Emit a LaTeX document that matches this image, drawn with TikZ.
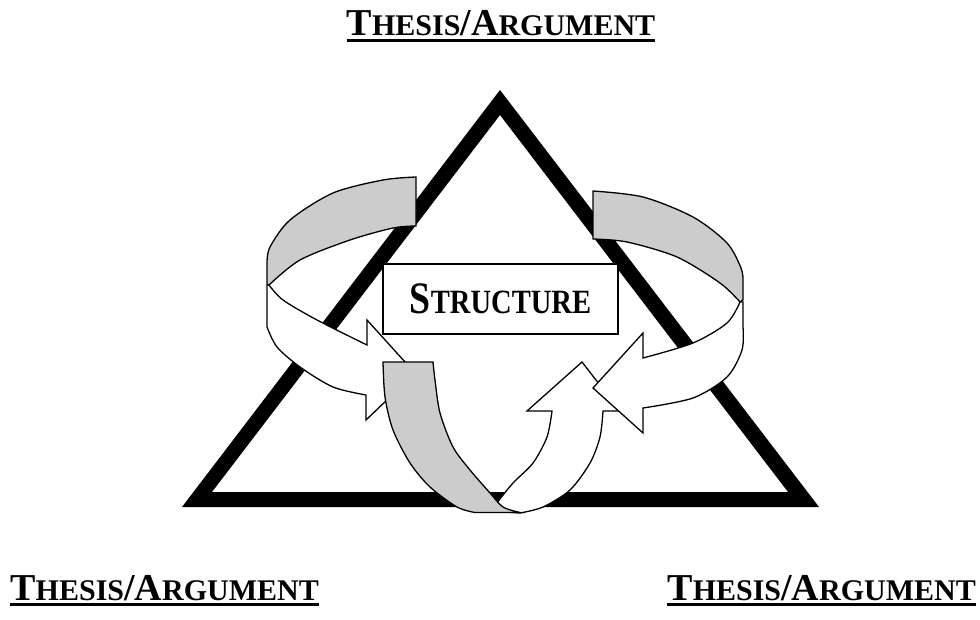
\documentclass[tikz,border=0pt]{standalone}
\usepackage{fontspec}
\setmainfont{Liberation Serif}
\definecolor{ribbon}{HTML}{CCCCCC}
\newcommand\thesisarg{{\fontsize{38}{40}\selectfont T}{\fontsize{30}{32}\selectfont HESIS}{\fontsize{38}{40}\selectfont /A}{\fontsize{30}{32}\selectfont RGUMENT}}
\newcommand\structword{\scalebox{0.84}[1]{{\fontsize{45}{47}\selectfont S}{\fontsize{34}{36}\selectfont TRUCTURE}}}
\tikzset{
  label/.style={inner sep=0pt, anchor=base, font=\bfseries},
  uline/.style={line width=2.2pt},
  band/.style={draw=black, line width=1.3pt, line join=miter, fill=ribbon},
  face/.style={draw=black, line width=1.3pt, line join=miter, fill=white},
  box/.style={draw=black, line width=1.4pt, fill=white, minimum width=235pt, minimum height=70pt, inner sep=0pt, font=\bfseries}
}
\begin{document}
\begin{tikzpicture}[x=1pt,y=-1pt]
\useasboundingbox (0,0) rectangle (980,620);
% triangle
\fill[even odd rule] (500,90) -- (182,507) -- (819,507) -- cycle
  (500,115) -- (212,492) -- (788,492) -- cycle;
% centre box
\node[box] (struct) at (500.5,299) {\structword};
% left arrow
\path[band] plot[smooth] coordinates {(416,177) (383,180) (333,193) (290,220) (270,247) (267,263)}
  -- (267,284) -- plot[smooth] coordinates {(269,285) (300,260) (350,240) (393,228) (416,226)} -- cycle;
\path[face] plot[smooth] coordinates {(269,285) (283,300) (317,320) (367,345)}
  -- (367,320) -- (415,373) -- (366,420) -- (366,395)
  -- plot[smooth] coordinates {(366,395) (333,387) (300,367) (277,347) (267,327)} -- (267,285) -- cycle;
% bottom U arrow
\path[face] (527,411) -- (552,411)
  -- plot[smooth] coordinates {(552,411) (547,437) (533,463) (513,483) (496,504)}
  -- (505,512) -- (520,513)
  -- plot[smooth] coordinates {(520,513) (543,507) (570,490) (590,463) (600,437) (603,411)}
  -- (620,411) -- (582,362) -- cycle;
\path[band] plot[smooth] coordinates {(383,362) (385,397) (393,430) (410,463) (430,487) (457,507) (475,512.5)}
  -- (520,512.5) -- plot[smooth] coordinates {(520,512.5) (503,507) (490,493) (470,470) (453,447) (440,413) (435,380) (433,362)} -- cycle;
% right arrow
\path[band] plot[smooth] coordinates {(593,191) (643,197) (693,217) (727,243) (741,268) (743,280)}
  -- (743,300) -- plot[smooth] coordinates {(740,302) (720,283) (677,257) (627,242) (593,239)} -- cycle;
\path[face] plot[smooth] coordinates {(740,302) (727,323) (693,343) (643,358)}
  -- (643,333) -- (593,388) -- (643,433) -- (643,408)
  -- plot[smooth] coordinates {(643,408) (693,398) (727,377) (742,350) (743,327)} -- (743,302) -- cycle;
% labels
\node[label] (top) at (501,36) {\thesisarg};
\draw[uline] ([yshift=-4.5pt]top.base west) -- ([yshift=-4.5pt]top.base east);
\node[label, anchor=base east] (bl) at (319,600) {\thesisarg};
\draw[uline] ([yshift=-4.5pt]bl.base west) -- ([yshift=-4.5pt]bl.base east);
\node[label, anchor=base east] (br) at (976,600) {\thesisarg};
\draw[uline] ([yshift=-4.5pt]br.base west) -- ([yshift=-4.5pt]br.base east);
\end{tikzpicture}
\end{document}
